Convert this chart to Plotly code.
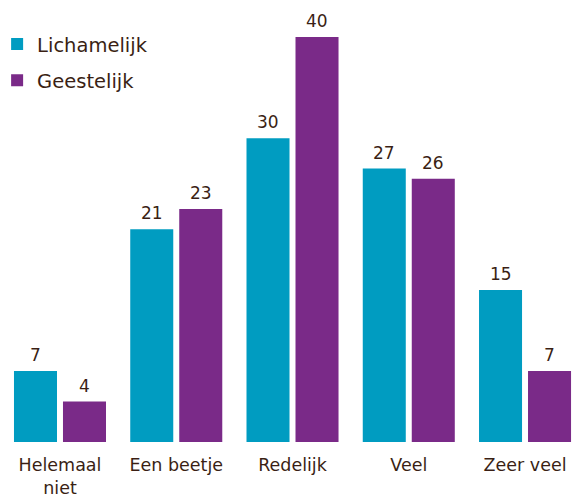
import plotly.graph_objects as go

categories = ["Helemaal<br>niet", "Een beetje", "Redelijk", "Veel", "Zeer veel"]
lichamelijk = [7, 21, 30, 27, 15]
geestelijk = [4, 23, 40, 26, 7]

teal = "#009CC1"
purple = "#7A2A88"
txt = "#3A1F14"
font_family = "DejaVu Sans"

fig = go.Figure()
fig.add_trace(go.Bar(
    name="Lichamelijk", x=categories, y=lichamelijk,
    marker=dict(color=teal, line=dict(width=0)),
    legendgroup="a", hoverinfo="skip",
))
fig.add_trace(go.Bar(
    name="Geestelijk", x=categories, y=geestelijk,
    marker=dict(color=purple, line=dict(width=0)),
    legendgroup="b", hoverinfo="skip",
))

# value labels above bars, positioned via the axes
for vals, shift in ((lichamelijk, -24.5), (geestelijk, 24.5)):
    for c, v in zip(categories, vals):
        fig.add_annotation(x=c, y=v, text=str(v), showarrow=False,
                           xanchor="center", yanchor="bottom",
                           xshift=shift, yshift=4,
                           font=dict(size=17, color=txt, family=font_family))

fig.update_layout(
    width=577, height=498,
    margin=dict(l=0, r=0, t=0, b=56, autoexpand=False),
    paper_bgcolor="white", plot_bgcolor="white",
    barmode="group", bargap=0.157, bargroupgap=0.122,
    font=dict(family=font_family, color=txt, size=17),
    legend=dict(x=-0.005, y=0.944, xanchor="left", yanchor="top",
                font=dict(size=19.5, color=txt, family=font_family),
                itemwidth=30,
                tracegroupgap=8, bgcolor="rgba(0,0,0,0)"),
    xaxis=dict(range=[-0.516, 4.447], showgrid=False, showline=False,
               zeroline=False, ticks="outside", ticklen=7, automargin=False,
               tickcolor="rgba(0,0,0,0)",
               tickfont=dict(size=17.5, color=txt, family=font_family)),
    yaxis=dict(range=[0, 43.65], visible=False, showgrid=False, zeroline=False),
)

fig.write_html("out.html", config={"displayModeBar": False},
               post_script="document.body.style.margin='0';")
